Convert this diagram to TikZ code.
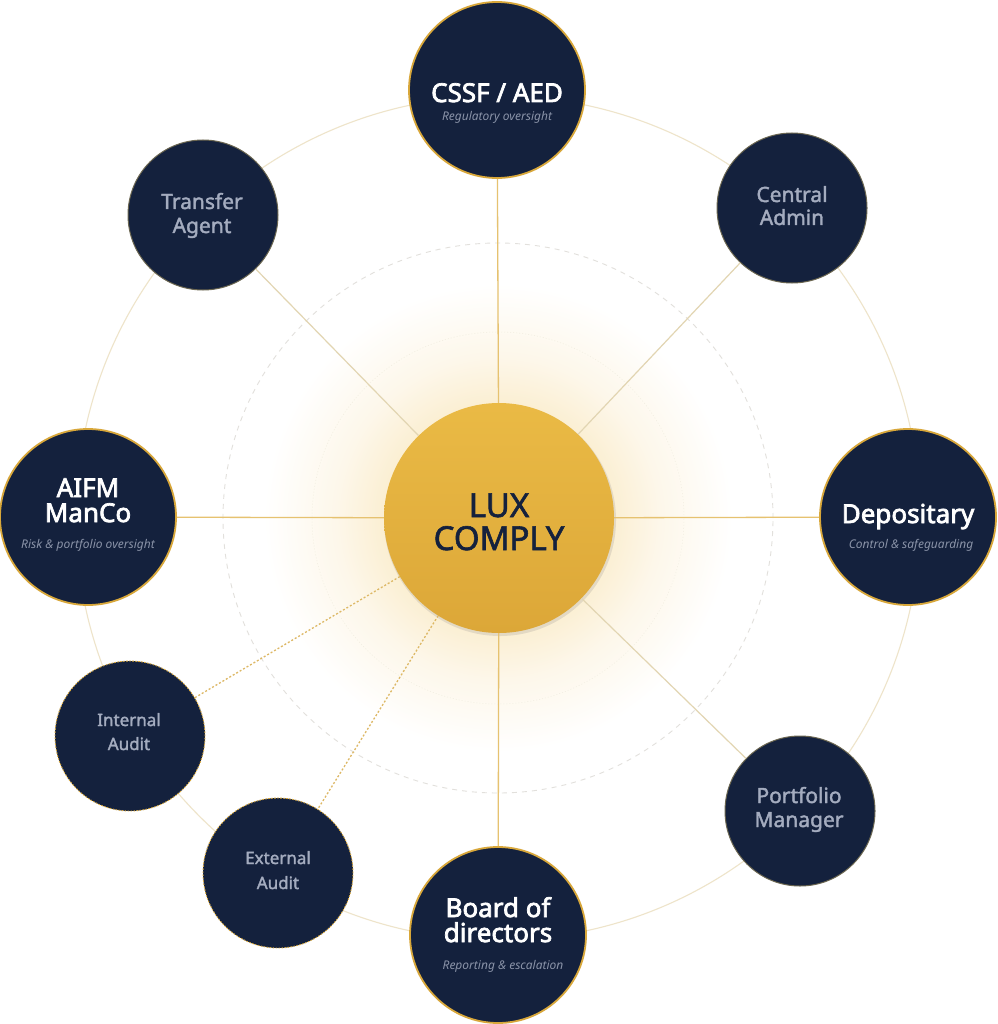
\documentclass[tikz,border=0pt]{standalone}
\usepackage{fontspec}
\setmainfont{Noto Sans}
\newfontfamily\tbf{Noto Sans}[FakeBold=2.8]
\newfontfamily\tmed{Noto Sans}[FakeBold=1.8]
\definecolor{navy}{HTML}{14213D}
\definecolor{gold}{HTML}{D8A73A}
\definecolor{goldtop}{HTML}{EABA45}
\definecolor{goldbot}{HTML}{DCA738}
\definecolor{subc}{HTML}{8A93A8}
\definecolor{minortext}{HTML}{A4ACBF}
\definecolor{ringc}{HTML}{EEE4CA}
\definecolor{innerc}{HTML}{E2E0DC}
\definecolor{faintc}{HTML}{F1ECE0}
\definecolor{mainline}{HTML}{E6C270}
\definecolor{minorline}{HTML}{E2D5B2}
\definecolor{dotline}{HTML}{DDB865}
\definecolor{minorborder}{HTML}{6B6650}
\definecolor{glowin}{HTML}{F8E3B0}
\definecolor{glowmid}{HTML}{FBEFD3}
\definecolor{glowout}{HTML}{FDF7EA}
\pgfdeclareradialshading{glowsh}{\pgfpointorigin}{color(0bp)=(glowin); color(9.6bp)=(glowmid); color(13.5bp)=(glowout); color(19.5bp)=(white); color(50bp)=(white)}
\tikzset{
  major/.style={circle, fill=navy, draw=gold, line width=1.8pt, minimum size=176pt, inner sep=0pt},
  minor/.style={circle, fill=navy, draw=minorborder, line width=1pt, minimum size=150pt, inner sep=0pt},
  audit/.style={circle, fill=navy, draw=gold, line width=0.9pt, dash pattern=on 1.6pt off 1.4pt, minimum size=150pt, inner sep=0pt},
  hub/.style={circle, top color=goldtop, bottom color=goldbot, draw=none, minimum size=230pt, inner sep=0pt},
  ttl/.style={anchor=base, text=white, font=\fontsize{26}{27}\selectfont\tbf, inner sep=0pt},
  sub/.style={anchor=base, text=subc, font=\fontsize{12}{13}\selectfont\itshape, inner sep=0pt},
  mtxt/.style={anchor=base, text=minortext, font=\fontsize{21}{23}\selectfont\tmed, inner sep=0pt},
  atxt/.style={anchor=base, text=minortext, font=\fontsize{17}{20}\selectfont\tmed, inner sep=0pt},
  hubtxt/.style={anchor=base, text=navy, font=\fontsize{33}{35}\selectfont\tmed, inner sep=0pt},
  mainconn/.style={draw=mainline, line width=1.3pt},
  minorconn/.style={draw=minorline, line width=1.2pt},
  dotconn/.style={draw=dotline, line width=1.3pt, dash pattern=on 2pt off 2pt},
}
\begin{document}
\begin{tikzpicture}[x=1pt,y=-1pt]
\useasboundingbox (0,0) rectangle (997,1024);
\fill[white] (0,0) rectangle (997,1024);
% glow
\fill[shading=glowsh] (498,518) circle[radius=300pt];
\draw[white, line width=3pt] (498,518) circle[radius=300pt];
% outer ring and inner rings
\draw[ringc, line width=1.1pt] (498,518) circle[radius=422pt];
\draw[innerc, line width=0.9pt, dash pattern=on 5pt off 5pt] (498,518) circle[radius=275pt];
\draw[faintc, line width=0.5pt, dash pattern=on 1pt off 2pt] (498,518) circle[radius=186pt];

% hub shadow
\fill[navy, opacity=0.10] (500,520) circle[radius=116pt];

% nodes
\node[hub] (lux) at (499,518) {};
\node[major] (cssf) at (497,90) {};
\node[major] (aifm) at (88,517) {};
\node[major] (dep) at (908,517) {};
\node[major] (board) at (498,935) {};
\node[minor] (ta) at (203,215) {};
\node[minor] (ca) at (792,208) {};
\node[minor] (pm) at (800,811) {};
\node[audit] (ia) at (130,736) {};
\node[audit] (ea) at (278,873) {};

% connectors
\path[mainconn] (lux) -- (cssf);
\path[mainconn] (lux) -- (aifm);
\path[mainconn] (lux) -- (dep);
\path[mainconn] (lux) -- (board);
\path[minorconn] (lux) -- (ta);
\path[minorconn] (lux) -- (ca);
\path[minorconn] (lux) -- (pm);
\path[dotconn] (lux) -- (ia);
\path[dotconn] (lux) -- (ea);

% texts
\node[hubtxt] (luxa) at (499,517) {LUX};
\node[hubtxt] (luxb) at (499,550) {COMPLY};

\node[ttl] (cssft) at (497,102) {CSSF / AED};
\node[sub] (cssfs) at (497,121) {Regulatory oversight};

\node[ttl] (aifma) at (88,497) {AIFM};
\node[ttl] (aifmb) at (88,522) {ManCo};
\node[sub] (aifms) at (88,548) {Risk \& portfolio oversight};

\node[ttl] (dept) at (908,523) {Depositary};
\node[sub] (deps) at (911,548) {Control \& safeguarding};

\node[ttl] (boarda) at (498,917) {Board of};
\node[ttl] (boardb) at (498,942) {directors};
\node[sub] (boards) at (503,969) {Reporting \& escalation};

\node[mtxt] (taa) at (202,209) {Transfer};
\node[mtxt] (tab) at (202,233) {Agent};
\node[mtxt] (caa) at (792,202) {Central};
\node[mtxt] (cab) at (792,225) {Admin};
\node[mtxt] (pma) at (799,803) {Portfolio};
\node[mtxt] (pmb) at (799,827) {Manager};

\node[atxt] (iaa) at (129,726) {Internal};
\node[atxt] (iab) at (129,750) {Audit};
\node[atxt] (eaa) at (278,864) {External};
\node[atxt] (eab) at (278,889) {Audit};
\end{tikzpicture}
\end{document}
